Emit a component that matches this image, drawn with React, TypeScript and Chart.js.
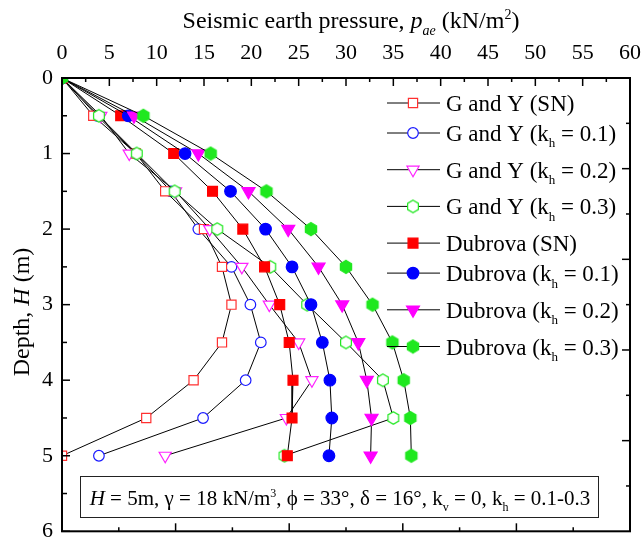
import React, { useEffect, useRef } from 'react';
import { Chart, registerables } from 'chart.js';
import { drawPoint } from 'chart.js/helpers';

Chart.register(...registerables);

// ---------- data ----------
const depths = [0, 0.5, 1, 1.5, 2, 2.5, 3, 3.5, 4, 4.5, 5];
const gySN = [0, 3.3, 7.8, 10.9, 15.0, 16.9, 17.9, 16.9, 13.9, 8.9, 0];
const gyK01 = [0, 3.7, 7.8, 11.5, 14.4, 17.9, 19.9, 21.0, 19.4, 14.9, 3.9];
const gyK02 = [0, 4.1, 7.1, 12.0, 15.6, 19.0, 21.9, 25.0, 26.4, 23.7, 10.9];
const gyK03 = [0, 3.9, 7.9, 11.9, 16.4, 22.0, 25.9, 30.0, 33.9, 35.0, 23.5];
const dbSN = [0, 6.2, 11.8, 15.9, 19.1, 21.4, 23.0, 24.0, 24.4, 24.3, 23.8];
const dbK01 = [0, 7.0, 13.0, 17.8, 21.5, 24.3, 26.3, 27.5, 28.3, 28.5, 28.2];
const dbK02 = [0, 7.6, 14.4, 19.7, 23.9, 27.1, 29.6, 31.3, 32.2, 32.7, 32.6];
const dbK03 = [0, 8.6, 15.7, 21.6, 26.3, 30.0, 32.8, 34.9, 36.1, 36.8, 36.9];

const seriesLabels = [
  'G and Y (SN)',
  'G and Y (k_{h} = 0.1)',
  'G and Y (k_{h} = 0.2)',
  'G and Y (k_{h} = 0.3)',
  'Dubrova (SN)',
  'Dubrova (k_{h} = 0.1)',
  'Dubrova (k_{h} = 0.2)',
  'Dubrova (k_{h} = 0.3)',
];
const seriesValues = [gySN, gyK01, gyK02, gyK03, dbSN, dbK01, dbK02, dbK03];

const xTitle = 'Seismic earth pressure, *p_{ae}* (kN/m^{2})';
const yTitle = 'Depth, *H* (m)';
const noteText = '*H* = 5m, γ = 18 kN/m^{3}, ϕ = 33°, δ = 16°, k_{v} = 0, k_{h} = 0.1-0.3';

const X_MIN = 0, X_MAX = 60, X_STEP = 5;
const Y_MIN = 0, Y_MAX = 6, Y_STEP = 1;

// ---------- styles ----------
const FONT = '"Liberation Serif", "Times New Roman", serif';

function makeHexagon(r: number, stroke: string, fill: string) {
  const size = Math.ceil(r * 2 + 3);
  const c = document.createElement('canvas');
  c.width = size;
  c.height = size;
  const ctx = c.getContext('2d')!;
  ctx.beginPath();
  for (let k = 0; k < 6; k++) {
    const a = -Math.PI / 2 + (k * Math.PI) / 3;
    const px = size / 2 + r * Math.cos(a);
    const py = size / 2 + r * Math.sin(a);
    if (k === 0) ctx.moveTo(px, py);
    else ctx.lineTo(px, py);
  }
  ctx.closePath();
  ctx.fillStyle = fill;
  ctx.fill();
  ctx.strokeStyle = stroke;
  ctx.lineWidth = 1.2;
  ctx.stroke();
  return c;
}

type MarkerStyle = { style: any; radius: number; rotation: number; border: string; fill: string; order: number };

function buildMarkers(): MarkerStyle[] {
  const G = '#1fe81f';
  return [
    { style: 'rect', radius: 6.5, rotation: 0, border: '#ff3030', fill: '#ffffff', order: 7 },
    { style: 'circle', radius: 5.3, rotation: 0, border: '#1a1aff', fill: '#ffffff', order: 8 },
    { style: 'triangle', radius: 7, rotation: 180, border: '#ff22ff', fill: '#ffffff', order: 6 },
    { style: makeHexagon(6.2, G, '#ffffff'), radius: 6.2, rotation: 0, border: G, fill: '#ffffff', order: 5 },
    { style: 'rect', radius: 7, rotation: 0, border: '#ff0000', fill: '#ff0000', order: 4 },
    { style: 'circle', radius: 5.8, rotation: 0, border: '#0000ff', fill: '#0000ff', order: 3 },
    { style: 'triangle', radius: 7.5, rotation: 180, border: '#ff00ff', fill: '#ff00ff', order: 2 },
    { style: makeHexagon(6.5, G, G), radius: 6.5, rotation: 0, border: G, fill: G, order: 1 },
  ];
}

// ---------- rich text ----------
type Seg = { t: string; it: boolean; sub?: boolean; sup?: boolean };
function parseRich(s: string): Seg[] {
  const segs: Seg[] = [];
  let italic = false;
  let buf = '';
  let i = 0;
  const flush = () => {
    if (buf) segs.push({ t: buf, it: italic });
    buf = '';
  };
  while (i < s.length) {
    const ch = s[i];
    if (ch === '*') {
      flush();
      italic = !italic;
      i++;
      continue;
    }
    if ((ch === '_' || ch === '^') && s[i + 1] === '{') {
      flush();
      const end = s.indexOf('}', i);
      segs.push({ t: s.slice(i + 2, end), it: italic, sub: ch === '_', sup: ch === '^' });
      i = end + 1;
      continue;
    }
    buf += ch;
    i++;
  }
  flush();
  return segs;
}

function segFont(seg: Seg, size: number) {
  const sz = seg.sub || seg.sup ? Math.round(size * 0.58) : size;
  return `${seg.it ? 'italic ' : ''}${sz}px ${FONT}`;
}

function drawRich(ctx: CanvasRenderingContext2D, text: string, x: number, baseline: number, size: number, align: 'left' | 'center') {
  const segs = parseRich(text);
  const widths = segs.map((s) => {
    ctx.font = segFont(s, size);
    return ctx.measureText(s.t).width;
  });
  const total = widths.reduce((a, b) => a + b, 0);
  let cx = align === 'center' ? x - total / 2 : x;
  ctx.textBaseline = 'alphabetic';
  ctx.textAlign = 'left';
  segs.forEach((s, i) => {
    ctx.font = segFont(s, size);
    let dy = 0;
    if (s.sub) dy = size * 0.28;
    if (s.sup) dy = -size * 0.38;
    ctx.fillText(s.t, cx, baseline + dy);
    cx += widths[i];
  });
}

// ---------- plugins ----------
const framePlugin = {
  id: 'frameTicks',
  afterDatasetsDraw(chart: any) {
    const { ctx, chartArea, scales } = chart;
    const { left, right, top, bottom } = chartArea;
    const x = scales.x;
    const y = scales.y;
    ctx.save();
    ctx.strokeStyle = '#000';
    ctx.lineWidth = 1.5;
    const seg = (x1: number, y1: number, x2: number, y2: number) => {
      ctx.beginPath();
      ctx.moveTo(x1, y1);
      ctx.lineTo(x2, y2);
      ctx.stroke();
    };
    for (let v = X_MIN; v <= X_MAX + 1e-9; v += X_STEP / 2) {
      const px = x.getPixelForValue(v);
      const major = Math.abs(v / X_STEP - Math.round(v / X_STEP)) < 1e-6;
      seg(px, top, px, top + (major ? 8 : 4));
    }
    for (let v = Y_MIN; v <= Y_MAX + 1e-9; v += Y_STEP / 2) {
      const py = y.getPixelForValue(v);
      const major = Math.abs(v / Y_STEP - Math.round(v / Y_STEP)) < 1e-6;
      seg(left, py, left + (major ? 8 : 5), py);
    }
    for (let k = 1; k < 10; k++) {
      const px = left + ((right - left) * k) / 10;
      seg(px, bottom, px, bottom - (k % 2 === 0 ? 8 : 4));
      const py = top + ((bottom - top) * k) / 10;
      seg(right, py, right - (k % 2 === 0 ? 8 : 4), py);
    }
    ctx.lineWidth = 2;
    ctx.strokeRect(left, top, right - left, bottom - top);
    ctx.restore();
  },
};

function makeTextPlugin(markers: MarkerStyle[]) {
  return {
    id: 'richText',
    afterDraw(chart: any) {
      const { ctx, chartArea } = chart;
      ctx.save();
      ctx.fillStyle = '#000';
      drawRich(ctx, xTitle, (chartArea.left + chartArea.right) / 2 + 5, 28, 24, 'center');
      ctx.save();
      ctx.translate(29, 312);
      ctx.rotate(-Math.PI / 2);
      drawRich(ctx, yTitle, 0, 0, 24, 'center');
      ctx.restore();

      let ry = 103;
      seriesLabels.forEach((label, i) => {
        const m = markers[i];
        ctx.strokeStyle = '#000';
        ctx.lineWidth = 1;
        ctx.beginPath();
        ctx.moveTo(387, ry);
        ctx.lineTo(440, ry);
        ctx.stroke();
        ctx.fillStyle = m.fill;
        ctx.strokeStyle = m.border;
        ctx.lineWidth = 1.2;
        drawPoint(ctx, { pointStyle: m.style, rotation: m.rotation, radius: m.radius, borderWidth: 1.2 } as any, 413, ry);
        ctx.fillStyle = '#000';
        drawRich(ctx, label, 446, ry + 8, 23, 'left');
        ry += label.includes('_{') ? 36.7 : 30;
      });

      ctx.strokeStyle = '#222';
      ctx.lineWidth = 1;
      ctx.strokeRect(80.5, 476.5, 518, 41);
      ctx.fillStyle = '#000';
      drawRich(ctx, noteText, 340, 505, 21, 'center');
      ctx.restore();
    },
  };
}

export default function App() {
  const ref = useRef<HTMLCanvasElement | null>(null);
  useEffect(() => {
    if (!ref.current) return;
    const markers = buildMarkers();
    const datasets = seriesValues.map((vals, i) => {
      const m = markers[i];
      return {
        label: seriesLabels[i],
        data: vals.map((v, j) => ({ x: v, y: depths[j] })),
        showLine: true,
        borderColor: '#000',
        borderWidth: 1,
        pointStyle: m.style,
        pointRadius: m.radius,
        pointRotation: m.rotation,
        pointBorderColor: m.border,
        pointBackgroundColor: m.fill,
        pointBorderWidth: 1.2,
        order: m.order,
        clip: 0,
      };
    });
    const chart: any = new Chart(ref.current, {
      type: 'scatter',
      data: { datasets },
      options: {
        responsive: false,
        maintainAspectRatio: false,
        animation: false,
        devicePixelRatio: 1,
        layout: { padding: { left: 0, top: 0, right: 11, bottom: 8 } },
        plugins: {
          legend: { display: false },
          tooltip: { enabled: false },
          title: { display: false },
        },
        scales: {
          x: {
            type: 'linear',
            position: 'top',
            min: X_MIN,
            max: X_MAX,
            ticks: { stepSize: X_STEP, color: '#000', font: { family: FONT, size: 22 }, padding: 12, maxRotation: 0, autoSkip: false },
            grid: { display: false, drawTicks: false },
            border: { display: false },
            afterFit: (s: any) => {
              s.height = 78;
              s.paddingLeft = 0;
              s.paddingRight = 0;
            },
          },
          y: {
            type: 'linear',
            reverse: true,
            min: Y_MIN,
            max: Y_MAX,
            ticks: { stepSize: Y_STEP, color: '#000', font: { family: FONT, size: 22 }, padding: 9 },
            grid: { display: false, drawTicks: false },
            border: { display: false },
            afterFit: (s: any) => {
              s.width = 62;
              s.paddingTop = 0;
              s.paddingBottom = 0;
            },
          },
        },
      } as any,
      plugins: [framePlugin, makeTextPlugin(markers)],
    });
    return () => chart.destroy();
  }, []);
  return (
    <div style={{ position: 'absolute', left: 0, top: 0, width: 641, height: 540, background: '#fff' }}>
      <canvas ref={ref} width={641} height={540} style={{ width: 641, height: 540, display: 'block' }} />
    </div>
  );
}
